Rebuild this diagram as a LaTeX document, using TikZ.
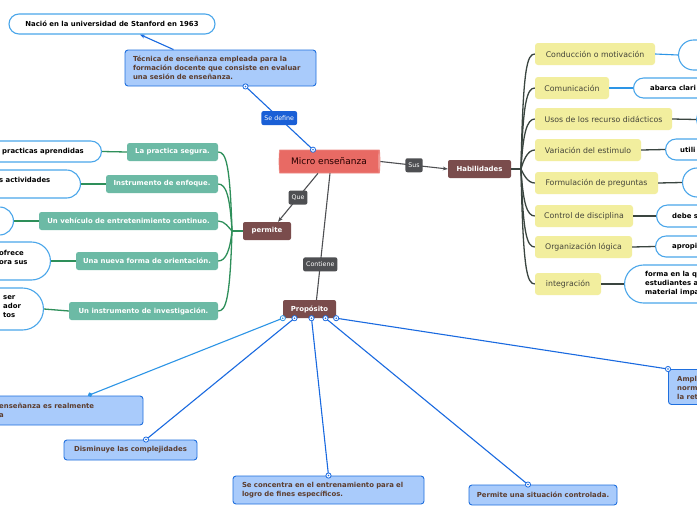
\documentclass[tikz,border=0pt]{standalone}
\usepackage{fontspec}
\setmainfont{DejaVu Sans}
\usetikzlibrary{arrows.meta,shapes.geometric,calc}
\definecolor{pillblue}{HTML}{4AA6EA}
\definecolor{bxfill}{HTML}{A9CBFB}
\definecolor{bxdraw}{HTML}{1F6FDE}
\definecolor{bxtext}{HTML}{5C3D2E}
\definecolor{lnblue}{HTML}{1A6AE0}
\definecolor{lnblue2}{HTML}{2D95E6}
\definecolor{teal}{HTML}{6CBAA5}
\definecolor{grn}{HTML}{2E8F5A}
\definecolor{yel}{HTML}{F2EE9E}
\definecolor{yeltext}{HTML}{45453A}
\definecolor{brn}{HTML}{7A4C4C}
\definecolor{lbl}{HTML}{4E4F52}
\definecolor{sdblue}{HTML}{1A5FD6}
\definecolor{dk}{HTML}{3A4540}
\definecolor{cylbody}{HTML}{E86A64}
\definecolor{cylend}{HTML}{F4A4A0}
\newcommand\fb{\fontsize{6.9pt}{9pt}\selectfont\bfseries}
\newcommand\fy{\fontsize{7.8pt}{9pt}\selectfont}
\newcommand\fl{\fontsize{6.3pt}{8pt}\selectfont}
\newcommand\ringat[2][lnblue]{\draw[draw=#1,fill=white,line width=0.8pt] #2 circle (2.6pt); \fill[#1] #2 circle (0.9pt);}
\begin{document}
\begin{tikzpicture}[x=1pt,y=-1pt,
  pillw/.style={draw=pillblue,line width=1.1pt,fill=white},
  bluebox/.style={draw=bxdraw,line width=0.9pt,fill=bxfill,rounded corners=3pt,text=bxtext,font=\fb},
  tealbox/.style={fill=teal,rounded corners=2.5pt,text=white,font=\fb,minimum height=18pt,inner sep=0pt},
  yelbox/.style={fill=yel,rounded corners=3pt,text=yeltext,font=\fy,minimum height=22pt,inner sep=0pt},
  brnbox/.style={fill=brn,rounded corners=2pt,text=white,font=\fb,minimum height=18pt,inner sep=0pt},
  lab/.style={fill=lbl,rounded corners=2pt,text=white,font=\fl,inner xsep=3pt,minimum height=14pt,inner ysep=0pt},
  blueline/.style={draw=lnblue,line width=1.1pt},
  grayline/.style={draw=lbl,line width=1.1pt},
  greenline/.style={draw=grn,line width=1.3pt},
  darkline/.style={draw=dk,line width=1.3pt},
  frag/.style={anchor=west,inner sep=0pt,font=\fb,align=left}
]
\useasboundingbox (0,0) rectangle (697,520);
\fill[white] (0,0) rectangle (697,520);

% top
\node[pillw,minimum width=206pt,minimum height=20pt,rounded corners=10pt,font=\fb,inner sep=0pt] (nacio) at (112,24) {Nació en la universidad de Stanford en 1963};
\node[bluebox,minimum height=36pt,text width=175pt,inner xsep=8pt,align=left] (tec) at (220.5,68) {Técnica de enseñanza empleada para la\\formación docente que consiste en evaluar\\una sesión de enseñanza.};

% centre
\node[cylinder,shape aspect=0.2,minimum width=23pt,minimum height=101pt,inner sep=0pt,
  cylinder uses custom fill,cylinder body fill=cylbody,cylinder end fill=cylend,
  draw=cylbody!80!white,line width=0.6pt,font=\fontsize{9pt}{10pt}\selectfont,text=black!85!red] (micro) at (329,161.5) {Micro enseñanza};
\node[brnbox,minimum width=63pt] (hab) at (479.5,169) {Habilidades};
\node[brnbox,minimum width=48pt] (permite) at (267,231) {permite};
\node[brnbox,minimum width=53pt] (prop) at (309.5,309) {Propósito};

\draw[blueline,-{Stealth[length=5pt]}] ([xshift=-47pt]tec.north) -- ([xshift=28pt]nacio.south);
\draw[blueline] ([xshift=25pt]tec.south) -- node[lab,fill=sdblue] (sedef) {Se define} ([xshift=-16pt]micro.north);
\ringat{([xshift=25pt]tec.south)}
\ringat{([xshift=-16pt]micro.north)}
\draw[grayline,-{Stealth[length=5pt]}] (micro.east) -- node[lab] (sus) {Sus} (hab.west);
\draw[grayline,-{Stealth[length=5pt]}] ([xshift=-11pt]micro.south) -- node[lab] (que) {Que} ([xshift=11pt]permite.north);
\draw[grayline] ([xshift=1pt]micro.south) -- node[lab,pos=0.72] (cont) {Contiene} ([xshift=7pt]prop.north);

% left teal boxes
\node[tealbox,minimum width=91pt] (seg) at (172.5,152) {La practica segura.};
\node[tealbox,minimum width=112pt] (enf) at (162,184) {Instrumento de enfoque.};
\node[tealbox,minimum width=179pt] (veh) at (128.5,221) {Un vehículo de entretenimiento continuo.};
\node[tealbox,minimum width=142pt] (ori) at (147,261) {Una nueva forma de orientación.};
\node[tealbox,minimum width=149pt] (inv) at (143.5,311) {Un instrumento de investigación.};
\coordinate (lhub) at (232,231);
\draw[greenline] (permite.west) -- (lhub);
\draw[greenline] (lhub) .. controls (230,164) and (226,152) .. (seg.east);
\draw[greenline] (lhub) .. controls (230,196) and (226,184) .. (enf.east);
\draw[greenline] (lhub) .. controls (229,228) and (225,221) .. (veh.east);
\draw[greenline] (lhub) .. controls (230,250) and (226,261) .. (ori.east);
\draw[greenline] (lhub) .. controls (230,299) and (226,311) .. (inv.east);

% left pills (cut by the edge)
\node[pillw,anchor=east,minimum width=220pt,minimum height=21pt,rounded corners=10.5pt] (lp1) at (102,151.5) {};
\node[pillw,anchor=east,minimum width=220pt,minimum height=28pt,rounded corners=14pt] (lp2) at (81,184) {};
\node[pillw,anchor=east,minimum width=220pt,minimum height=28pt,rounded corners=14pt] (lp3) at (14,221) {};
\node[pillw,anchor=east,minimum width=220pt,minimum height=38pt,rounded corners=19pt] (lp4) at (51,261) {};
\node[pillw,anchor=east,minimum width=220pt,minimum height=42pt,rounded corners=21pt] (lp5) at (44,309) {};
\node[frag] (lt1) at (2,151.5) {practicas aprendidas};
\node[frag] (lt2) at (-1,180) {s actividades};
\node[frag] (lt4) at (-1,257.5) {ofrece\\ora sus};
\node[frag] (lt5) at (3,307) {ser\\ador\\tos};
\draw[greenline] (lp1.east) -- (seg.west);
\draw[greenline] (lp2.east) -- (enf.west);
\draw[greenline] (lp3.east) -- (veh.west);
\draw[greenline] (lp4.east) -- (ori.west);
\draw[greenline] (lp5.east) -- (inv.west);

% right yellow boxes
\node[yelbox,minimum width=120pt] (cond) at (595,54) {Conducción o motivación};
\node[yelbox,minimum width=74pt] (com) at (572,88) {Comunicación};
\node[yelbox,minimum width=137pt] (usos) at (603.5,119) {Usos de los recurso didácticos};
\node[yelbox,minimum width=106pt] (var) at (588,150) {Variación del estimulo};
\node[yelbox,minimum width=123pt] (form) at (596.5,183) {Formulación de preguntas};
\node[yelbox,minimum width=98pt] (ctrl) at (584,216) {Control de disciplina};
\node[yelbox,minimum width=97pt] (org) at (583.5,247) {Organización lógica};
\node[yelbox,minimum width=66pt] (integ) at (568,284) {integración};
\coordinate (rhub) at (521,169);
\draw[darkline] (hab.east) -- (rhub);
\draw[darkline] (rhub) .. controls (523,68) and (527,54) .. (cond.west);
\draw[darkline] (rhub) .. controls (523,102) and (527,88) .. (com.west);
\draw[darkline] (rhub) .. controls (523,133) and (527,119) .. (usos.west);
\draw[darkline] (rhub) .. controls (523,162) and (527,150) .. (var.west);
\draw[darkline] (rhub) .. controls (523,173) and (527,183) .. (form.west);
\draw[darkline] (rhub) .. controls (523,203) and (527,216) .. (ctrl.west);
\draw[darkline] (rhub) .. controls (523,234) and (527,247) .. (org.west);
\draw[darkline] (rhub) .. controls (523,270) and (527,284) .. (integ.west);

% right pills (cut by the edge)
\node[pillw,anchor=west,minimum width=220pt,minimum height=30pt,rounded corners=15pt] (rp1) at (678,55) {};
\node[pillw,anchor=west,minimum width=220pt,minimum height=20pt,rounded corners=10pt] (rp2) at (633,88) {};
\node[pillw,anchor=west,minimum width=220pt,minimum height=23pt,rounded corners=11.5pt] (rp3) at (696,119.5) {};
\node[pillw,anchor=west,minimum width=220pt,minimum height=21pt,rounded corners=10.5pt] (rp4) at (665,149.5) {};
\node[pillw,anchor=west,minimum width=220pt,minimum height=29pt,rounded corners=14.5pt] (rp5) at (682,182.5) {};
\node[pillw,anchor=west,minimum width=220pt,minimum height=22pt,rounded corners=11pt] (rp6) at (656,216) {};
\node[pillw,anchor=west,minimum width=220pt,minimum height=21pt,rounded corners=10.5pt] (rp7) at (655,246.5) {};
\node[pillw,anchor=west,minimum width=220pt,minimum height=38pt,rounded corners=19pt] (rp8) at (624,284) {};
\node[frag] (rt2) at (650,88) {abarca clari};
\node[frag] (rt4) at (680,149.5) {utili};
\node[frag] (rt6) at (672,216) {debe s};
\node[frag] (rt7) at (672,246.5) {apropi};
\node[frag] (rt8) at (645,284) {forma en la q\\estudiantes a\\material impa};
\draw[blueline,draw=lnblue2] (cond.east) -- (rp1.west);
\draw[blueline,draw=lnblue2] (com.east) -- (rp2.west);
\draw[darkline] (usos.east) -- (rp3.west);
\draw[darkline] (var.east) -- (rp4.west);
\draw[darkline] (form.east) -- (rp5.west);
\draw[darkline] (ctrl.east) -- (rp6.west);
\draw[darkline] (org.east) -- (rp7.west);
\draw[darkline] (integ.east) -- (rp8.west);

% bottom blue boxes
\node[bluebox,minimum width=203pt,minimum height=29pt] (b1) at (41.5,410.5) {};
\node[frag,text=bxtext] (b1t) at (-1,410.5) {enseñanza es realmente\\a};
\node[bluebox,minimum width=133pt,minimum height=20pt,inner sep=0pt] (dis) at (130.5,450) {Disminuye las complejidades};
\node[bluebox,minimum height=28pt,text width=173pt,inner xsep=9pt,inner ysep=0pt,align=left] (conc) at (328.5,490) {Se concentra en el entrenamiento para el\\logro de fines específicos.};
\node[bluebox,minimum width=148pt,minimum height=20pt,inner sep=0pt] (perm) at (543,495) {Permite una situación controlada.};
\node[bluebox,anchor=north west,minimum width=120pt,minimum height=35pt] (amp) at (668,369) {};
\node[frag,text=bxtext] (ampt) at (677,388) {Ampli\\norm\\la ret};

\draw[blueline,draw=lnblue2,-{Circle[length=4.5pt]}] (prop.south west) -- ([xshift=46.5pt]b1.north);
\ringat[lnblue2]{(prop.south west)}
\draw[blueline] ([xshift=-15pt]prop.south) -- ([xshift=15.5pt]dis.north);
\draw[blueline] ([xshift=2pt]prop.south) -- (conc.north);
\draw[blueline] ([xshift=16pt]prop.south) -- ([xshift=-15pt]perm.north);
\draw[blueline] (prop.south east) -- (amp.north west);
\ringat{([xshift=-15pt]prop.south)}
\ringat{([xshift=15.5pt]dis.north)}
\ringat{([xshift=2pt]prop.south)}
\ringat{(conc.north)}
\ringat{([xshift=16pt]prop.south)}
\ringat{([xshift=-15pt]perm.north)}
\ringat{(prop.south east)}
\ringat{(amp.north west)}
\end{tikzpicture}
\end{document}
